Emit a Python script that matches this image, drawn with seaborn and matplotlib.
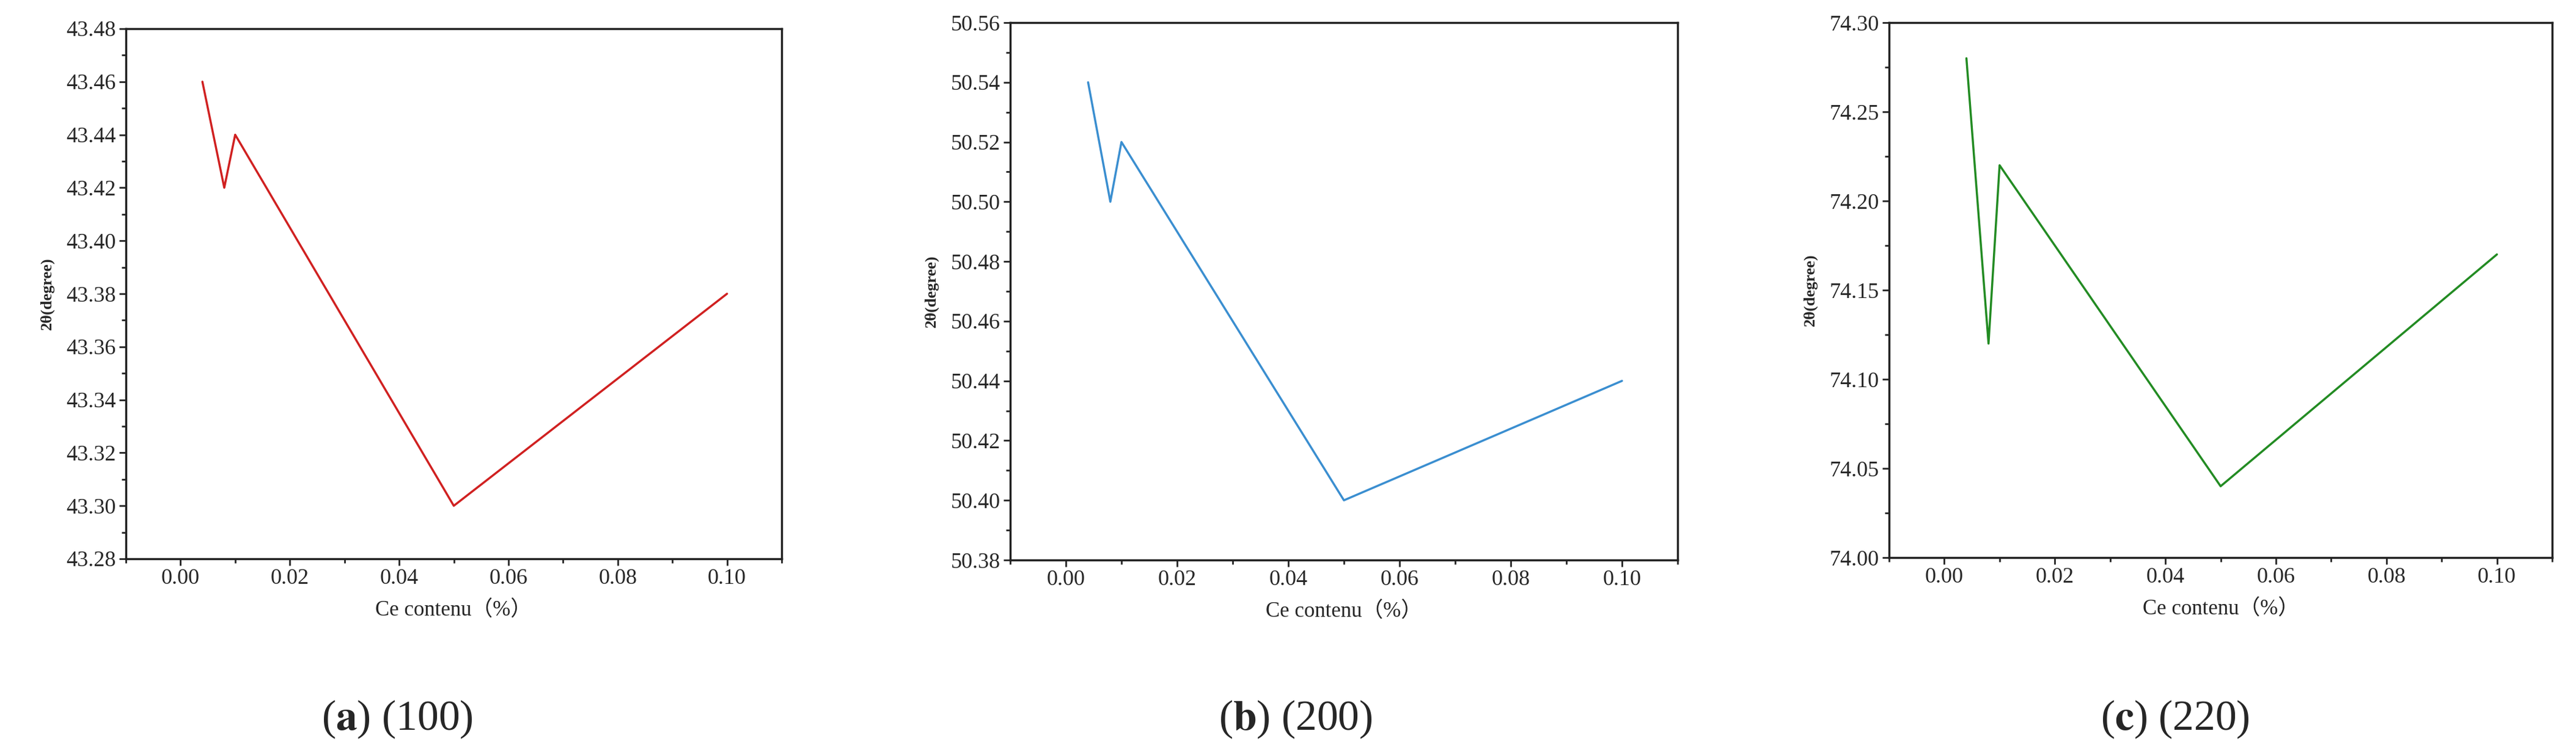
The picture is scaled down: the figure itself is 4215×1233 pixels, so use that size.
import numpy as np
import seaborn as sns
import matplotlib
matplotlib.use("Agg")
from matplotlib import pyplot as plt
from matplotlib.ticker import MultipleLocator, FormatStrFormatter

sns.set_style("ticks")
plt.rcParams['font.family'] = ['Liberation Serif', 'Noto Sans CJK SC', 'DejaVu Serif']
plt.rcParams['mathtext.fontset'] = 'stix'

ce_content = [0.004, 0.008, 0.01, 0.05, 0.1]
peak_100 = [43.46, 43.42, 43.44, 43.30, 43.38]
peak_200 = [50.54, 50.50, 50.52, 50.40, 50.44]
peak_220 = [74.28, 74.12, 74.22, 74.04, 74.17]
captions = ["a", "b", "c"]
planes = ["(100)", "(200)", "(220)"]

# series, colour, y range, major step, minor step, axes box (px), caption x (px)
panels = [
    (peak_100, "#d02020", (43.28, 43.48), 0.02, 0.01, (206, 47, 1279, 915), 650),
    (peak_200, "#3a8ed0", (50.38, 50.56), 0.02, 0.01, (1653, 37, 2745, 917), 2120),
    (peak_220, "#228b22", (74.00, 74.30), 0.05, 0.025, (3091, 37, 4176, 913), 3559),
]

W, H = 4215, 1233
fig = plt.figure(figsize=(W / 100, H / 100), dpi=100)

for (vals, color, ylim, major, minor, box, capx), cap, plane in zip(panels, captions, planes):
    x0, y0, x1, y1 = box
    ax = fig.add_axes([x0 / W, 1 - y1 / H, (x1 - x0) / W, (y1 - y0) / H])
    sns.lineplot(x=ce_content, y=vals, color=color, lw=2.5, ax=ax)
    ax.set_xlim(-0.01, 0.11)
    ax.set_ylim(*ylim)
    ax.xaxis.set_major_locator(MultipleLocator(0.02))
    ax.xaxis.set_minor_locator(MultipleLocator(0.01))
    ax.yaxis.set_major_locator(MultipleLocator(major))
    ax.yaxis.set_minor_locator(MultipleLocator(minor))
    ax.xaxis.set_major_formatter(FormatStrFormatter('%.2f'))
    ax.yaxis.set_major_formatter(FormatStrFormatter('%.2f'))
    ax.tick_params(which='major', length=8, width=2, labelsize=26, direction='out')
    ax.tick_params(which='minor', length=5, width=2, direction='out')
    for s in ax.spines.values():
        s.set_linewidth(2.5)
        s.set_color('#222222')
    ax.set_xlabel("Ce contenu（%）", fontsize=25, labelpad=14)
    ax.set_ylabel("2θ(degree)", fontsize=19, fontweight='bold', labelpad=14)
    fig.text(capx / W, 1 - 1178 / H, r"($\mathbf{" + cap + "}$) " + plane,
             ha='center', va='center', fontsize=50)

fig.savefig("out.png", dpi=100, facecolor='white')
